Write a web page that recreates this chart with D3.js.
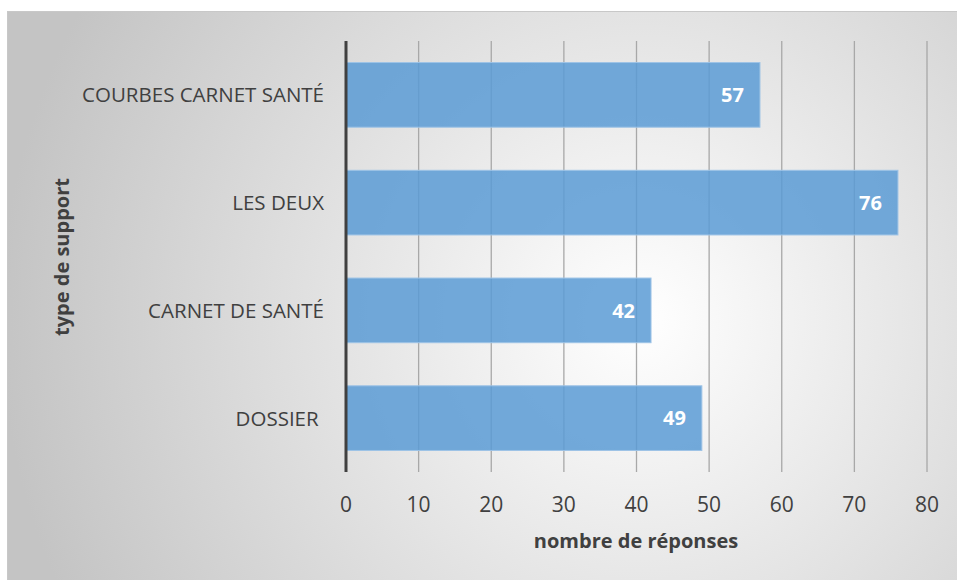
<!DOCTYPE html>
<html>
<head>
<meta charset="utf-8">
<script src="https://cdn.jsdelivr.net/npm/d3@7"></script>
<style>
  body { margin: 0; background: #fff; }
  text { font-family: "Open Sans", sans-serif; white-space: pre; }
</style>
</head>
<body>
<div id="container"></div>
<script>
// chart data
let categories = ["COURBES CARNET SANTÉ", "LES DEUX", "CARNET DE SANTÉ", "DOSSIER "];
let values = [57, 76, 42, 49];
let tickValues = [0, 10, 20, 30, 40, 50, 60, 70, 80];
let xTitle = "nombre de réponses";
let yTitle = "type de support";

let w = 957;
let h = 580;

let svg = d3.select("#container")
  .append("svg")
  .attr("width", w)
  .attr("height", h);

// background gradient of the chart area
let defs = svg.append("defs");
let bg = defs.append("radialGradient")
  .attr("id", "bgGrad")
  .attr("gradientUnits", "userSpaceOnUse")
  .attr("cx", 640).attr("cy", 320).attr("r", 640);
bg.append("stop").attr("offset", "0%").attr("stop-color", "#ffffff");
bg.append("stop").attr("offset", "100%").attr("stop-color", "#c4c4c4");

svg.append("rect")
  .attr("x", 7).attr("y", 11)
  .attr("width", w - 7).attr("height", h - 11)
  .attr("fill", "url(#bgGrad)");
svg.append("line")
  .attr("x1", 7).attr("x2", w).attr("y1", 11.5).attr("y2", 11.5)
  .attr("stroke", "#c8c8c8");
svg.append("line")
  .attr("x1", 7.5).attr("x2", 7.5).attr("y1", 11).attr("y2", h)
  .attr("stroke", "#c8c8c8");

let margin = { left: 346, right: 30, top: 41, bottom: 108 };

let x = d3.scaleLinear()
  .domain([0, 80])
  .range([margin.left, 927]);

let y = d3.scaleBand()
  .domain(categories)
  .range([margin.top, h - margin.bottom])
  .paddingInner(0.4)
  .paddingOuter(0.2);

// gridlines
svg.append("g")
  .selectAll("line")
  .data(tickValues.slice(1))
  .enter()
  .append("line")
    .attr("x1", d => x(d)).attr("x2", d => x(d))
    .attr("y1", margin.top).attr("y2", h - margin.bottom)
    .attr("stroke", "#a8a8a8")
    .attr("stroke-width", 1.3);

// bars
svg.append("g")
  .selectAll("rect")
  .data(values)
  .enter()
  .append("rect")
    .attr("x", x(0))
    .attr("y", (d, i) => y(categories[i]))
    .attr("width", d => x(d) - x(0))
    .attr("height", y.bandwidth())
    .attr("fill", "#5b9bd5")
    .attr("fill-opacity", 0.85)
    .attr("stroke", "#9dc3e6")
    .attr("stroke-width", 1);

// value labels
svg.append("g")
  .selectAll("text")
  .data(values)
  .enter()
  .append("text")
    .attr("x", d => x(d) - 16)
    .attr("y", (d, i) => y(categories[i]) + y.bandwidth() / 2)
    .attr("dy", "0.36em")
    .attr("text-anchor", "end")
    .attr("fill", "#fff")
    .attr("font-weight", "bold")
    .attr("font-size", "20px")
    .text(d => d);

// vertical axis line
svg.append("line")
  .attr("x1", x(0)).attr("x2", x(0))
  .attr("y1", margin.top).attr("y2", h - margin.bottom)
  .attr("stroke", "#404040")
  .attr("stroke-width", 3);

// category labels
svg.append("g")
  .selectAll("text")
  .data(categories)
  .enter()
  .append("text")
    .attr("x", x(0) - 22)
    .attr("y", d => y(d) + y.bandwidth() / 2)
    .attr("dy", "0.36em")
    .attr("text-anchor", "end")
    .attr("fill", "#404040")
    .attr("font-size", "20.5px")
    .text(d => d);

// tick labels
svg.append("g")
  .selectAll("text")
  .data(tickValues)
  .enter()
  .append("text")
    .attr("x", d => x(d))
    .attr("y", 504)
    .attr("dy", "0.36em")
    .attr("text-anchor", "middle")
    .attr("fill", "#404040")
    .attr("font-size", "21px")
    .text(d => d);

// axis titles
svg.append("text")
  .attr("x", 636).attr("y", 541)
  .attr("text-anchor", "middle")
  .attr("dy", "0.36em")
  .attr("fill", "#404040")
  .attr("font-weight", "bold")
  .attr("font-size", "20px")
  .text(xTitle);

svg.append("text")
  .attr("transform", "translate(62,257) rotate(-90)")
  .attr("text-anchor", "middle")
  .attr("dy", "0.36em")
  .attr("fill", "#404040")
  .attr("font-weight", "bold")
  .attr("font-size", "20px")
  .text(yTitle);
</script>
</body>
</html>
